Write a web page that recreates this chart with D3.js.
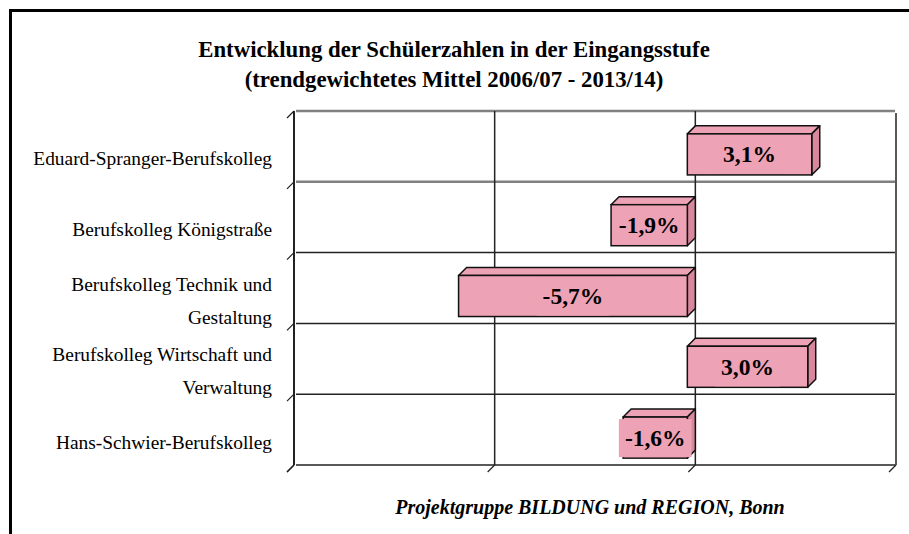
<!DOCTYPE html>
<html><head><meta charset="utf-8">
<script src="https://cdn.jsdelivr.net/npm/d3@7"></script>
<style>html,body{margin:0;padding:0;background:#fff;}svg{display:block;}</style>
</head><body>
<script>
const categories = ["Eduard-Spranger-Berufskolleg","Berufskolleg Königstraße","Berufskolleg Technik und Gestaltung","Berufskolleg Wirtschaft und Verwaltung","Hans-Schwier-Berufskolleg"];
const categoryLines = [["Eduard-Spranger-Berufskolleg"],["Berufskolleg Königstraße"],["Berufskolleg Technik und","Gestaltung"],["Berufskolleg Wirtschaft und","Verwaltung"],["Hans-Schwier-Berufskolleg"]];
const values = [3.1, -1.9, -5.7, 3.0, -1.6];
const valueLabels = ["3,1%","-1,9%","-5,7%","3,0%","-1,6%"];
const xTicks = [-10, -5, 0, 5];
const titleLines = ["Entwicklung der Schülerzahlen in der Eingangsstufe","(trendgewichtetes Mittel 2006/07 - 2013/14)"];
const footer = "Projektgruppe BILDUNG und REGION, Bonn";

(function(){
const W = 909, H = 534;
const svg = d3.select("body").append("svg").attr("width", W).attr("height", H);
const serif = "'Liberation Serif','Times New Roman',serif";
const D = 8; // 3D depth

const x = d3.scaleLinear().domain([-10, 5]).range([294, 896]);
const y = d3.scaleBand().domain(categories).range([111, 465]).paddingInner(0.42).paddingOuter(0.21);
const yb = d3.scaleBand().domain(categories).range([111, 465]);

// border (top & left)
svg.append("line").attr("x1",10.5).attr("x2",W).attr("y1",10.5).attr("y2",10.5).attr("stroke","#000").attr("stroke-width",3);
svg.append("line").attr("x1",10.5).attr("x2",10.5).attr("y1",9).attr("y2",H).attr("stroke","#000").attr("stroke-width",3);

// title
svg.append("g").selectAll("text").data(titleLines).join("text")
  .attr("x", 454).attr("y", (d,i)=>57 + i*30).attr("text-anchor","middle")
  .attr("font-family", serif).attr("font-weight","bold").attr("font-size",22.8).text(d=>d);

// horizontal gridlines (back wall boundaries)
const bounds = categories.map(c=>yb(c)).concat([465]);
svg.append("g").selectAll("line").data(bounds).join("line")
  .attr("x1", x(-10)+2).attr("x2", x(5)-1).attr("y1", d=>d).attr("y2", d=>d)
  .attr("stroke", (d,i)=> i<2 ? "#808080" : "#222").attr("stroke-width", (d,i)=> i<2 ? 2.5 : 1.5);

// vertical gridlines
svg.append("g").selectAll("line").data(xTicks).join("line")
  .attr("x1", d=>x(d)).attr("x2", d=>x(d)).attr("y1", (d,i)=> i===3 ? 113 : 111).attr("y2", 465)
  .attr("stroke", "#222").attr("stroke-width", (d,i)=> i===0 ? 2 : 1.5);

// diagonal ticks left
svg.append("g").selectAll("line").data(bounds).join("line")
  .attr("x1", x(-10)).attr("y1", d=>d).attr("x2", x(-10)-7).attr("y2", d=>d+7)
  .attr("stroke","#222").attr("stroke-width",1.2);
// diagonal ticks bottom
svg.append("g").selectAll("line").data(xTicks).join("line")
  .attr("x1", d=>x(d)).attr("y1", 465).attr("x2", d=>x(d)-7).attr("y2", 472)
  .attr("stroke","#222").attr("stroke-width",1.2);

// category labels
const lab = svg.append("g");
categories.forEach((c,i)=>{
  const lines = categoryLines[i];
  const cy = yb(c) + yb.bandwidth()/2 + D + 5;
  const lh = 33;
  lines.forEach((l,j)=>{
    lab.append("text").attr("x", 272).attr("y", cy + (j - (lines.length-1)/2)*lh + 6)
      .attr("text-anchor","end").attr("font-family", serif).attr("font-size",19.4).text(l);
  });
});

// bars
const frontCol = "#EEA2B5", topCol = "#EEA2B5", sideCol = "#D8889C";
const bars = svg.append("g");
values.forEach((v,i)=>{
  const c = categories[i];
  const x0 = x(Math.min(0,v)) - D, x1 = x(Math.max(0,v)) - D;
  const y0 = y(c) + D, h = y.bandwidth();
  const g = bars.append("g");
  g.append("polygon").attr("points", [[x0,y0],[x0+D,y0-D],[x1+D,y0-D],[x1,y0]].join(" "))
    .attr("fill", topCol).attr("stroke","#111").attr("stroke-width",1.5).attr("stroke-linejoin","round");
  g.append("polygon").attr("points", [[x1,y0],[x1+D,y0-D],[x1+D,y0+h-D],[x1,y0+h]].join(" "))
    .attr("fill", sideCol).attr("stroke","#111").attr("stroke-width",1.5).attr("stroke-linejoin","round");
  g.append("rect").attr("x", x0).attr("y", y0).attr("width", x1-x0).attr("height", h)
    .attr("fill", frontCol).attr("stroke","#111").attr("stroke-width",1.5);
  const cx = (x0+x1)/2, cy = y0 + h/2;
  const t = g.append("text").attr("x", cx).attr("y", cy + 8).attr("text-anchor","middle")
    .attr("font-family", serif).attr("font-weight","bold").attr("font-size",23.5).text(valueLabels[i]);
  const bb = t.node().getBBox();
  g.insert("rect", "text").attr("x", bb.x - 6).attr("y", y0 + 2).attr("width", bb.width + 12).attr("height", h - 3)
    .attr("fill", frontCol);
});

// footer
svg.append("text").attr("x", 590).attr("y", 514).attr("text-anchor","middle")
  .attr("font-family", serif).attr("font-weight","bold").attr("font-style","italic").attr("font-size",20).text(footer);
})();
</script>
</body></html>
